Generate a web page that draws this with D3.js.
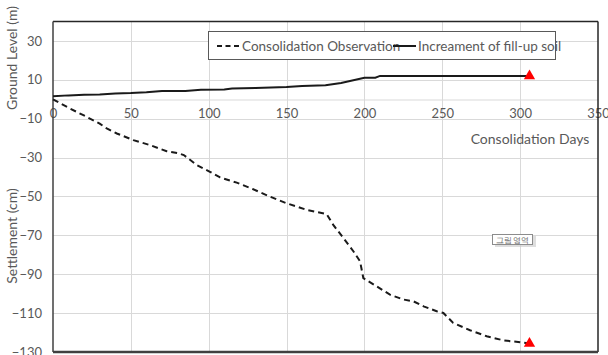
<!DOCTYPE html>
<html>
<head>
<meta charset="utf-8">
<script src="https://cdn.jsdelivr.net/npm/d3@7"></script>
<style>
  html, body { margin: 0; padding: 0; background: #fff; }
  svg { display: block; }
  text { font-family: Lato, "Open Sans", sans-serif; }
</style>
</head>
<body>
<svg id="chart" width="608" height="355"></svg>
<script>
// Consolidation settlement record (days, cm)
const settleDays = [0, 11, 19.5, 30, 34.5, 41, 51.6, 62.3, 73, 80.5, 84, 92.3, 100.8, 107.3, 118, 128.6, 139.4, 150, 163, 175.8, 180, 186.5, 193, 197.2, 199.3, 208, 216.4, 225, 231.4, 238, 246.4, 250.7, 257, 267.8, 278.5, 289.2, 300, 306];
const settleValues = [0, -4.8, -8.2, -12.5, -15, -17.6, -21, -23.6, -26.7, -27.8, -28.7, -33.8, -37.3, -40.2, -42.9, -46.3, -50.1, -53.5, -56.9, -59.1, -64.6, -71.4, -78.3, -83.4, -92, -96.3, -100.5, -103, -103.9, -106.5, -109, -109.9, -115, -118.8, -121.9, -124, -125, -125.6];

// Fill-up soil height (days, m)
const fillDays = [0, 10, 20, 30, 40, 50, 60, 70, 85, 95, 110, 115, 130, 140, 150, 160, 175, 185, 200, 207, 210, 306];
const fillValues = [1.5, 2, 2.3, 2.5, 3, 3.2, 3.6, 4.2, 4.3, 4.9, 5, 5.5, 5.8, 6, 6.3, 6.8, 7.2, 8.4, 11.1, 11.1, 12, 12];

// Latest readings, flagged with markers
const markerDays = [306, 306];
const markerValues = [12, -125.6];

const xTicks = [0, 50, 100, 150, 200, 250, 300, 350];
const yTicks = [30, 10, -10, -30, -50, -70, -90, -110, -130];

const seriesNames = ["Consolidation Observation", "Increament of fill-up soil"];

const svg = d3.select("#chart");
const plotLeft = 53, plotRight = 598, plotTop = 21.5, plotBottom = 352;

const x = d3.scaleLinear().domain([0, 350]).range([plotLeft, plotRight]);
const y = d3.scaleLinear().domain([-130, 40]).range([plotBottom, plotTop]);

const gridColor = "#d9d9d9";
const textColor = "#595959";

// horizontal gridlines
svg.append("g").selectAll("line").data(yTicks.filter(v => v > -130))
  .join("line")
  .attr("x1", plotLeft).attr("x2", plotRight)
  .attr("y1", d => Math.round(y(d)) + 0.5).attr("y2", d => Math.round(y(d)) + 0.5)
  .attr("stroke", gridColor).attr("stroke-width", 1);

// vertical gridlines
svg.append("g").selectAll("line").data(xTicks.filter(v => v > 0 && v < 350))
  .join("line")
  .attr("x1", d => Math.round(x(d)) + 0.5).attr("x2", d => Math.round(x(d)) + 0.5)
  .attr("y1", plotTop).attr("y2", plotBottom)
  .attr("stroke", gridColor).attr("stroke-width", 1);

// horizontal axis at zero
const xAxis = d3.axisBottom(x).tickValues(xTicks).tickSize(0).tickPadding(9);
const gx = svg.append("g").attr("transform", `translate(0,${Math.round(y(0)) + 0.5})`).call(xAxis);
gx.select(".domain").attr("stroke", gridColor);
gx.selectAll("text").attr("fill", textColor).attr("font-size", 13).attr("font-family", "Lato, sans-serif");

// vertical axis
const yAxis = d3.axisLeft(y).tickValues(yTicks).tickSize(0).tickPadding(11);
const gy = svg.append("g").attr("transform", `translate(${plotLeft},0)`).call(yAxis);
gy.select(".domain").remove();
gy.selectAll("text").attr("fill", textColor).attr("font-size", 13).attr("font-family", "Lato, sans-serif");

// plot frame
svg.append("line").attr("x1", plotLeft).attr("x2", plotRight).attr("y1", plotTop).attr("y2", plotTop)
  .attr("stroke", "#262626").attr("stroke-width", 1.5);
svg.append("line").attr("x1", plotRight).attr("x2", plotRight).attr("y1", plotTop).attr("y2", plotBottom)
  .attr("stroke", "#262626").attr("stroke-width", 1.5);
svg.append("line").attr("x1", plotLeft).attr("x2", plotLeft).attr("y1", plotTop).attr("y2", plotBottom)
  .attr("stroke", "#404040").attr("stroke-width", 1.5);
svg.append("line").attr("x1", plotLeft).attr("x2", plotRight).attr("y1", plotBottom).attr("y2", plotBottom)
  .attr("stroke", "#404040").attr("stroke-width", 2.5);

const line = d3.line().x(d => x(d[0])).y(d => y(d[1]));

// settlement curve
svg.append("path")
  .datum(d3.zip(settleDays, settleValues))
  .attr("d", line)
  .attr("fill", "none").attr("stroke", "#1a1a1a").attr("stroke-width", 2)
  .attr("stroke-dasharray", "6,4");

// fill-up soil curve
svg.append("path")
  .datum(d3.zip(fillDays, fillValues))
  .attr("d", line)
  .attr("fill", "none").attr("stroke", "#1a1a1a").attr("stroke-width", 2);

// markers
svg.append("g").selectAll("path").data(d3.zip(markerDays, markerValues))
  .join("path")
  .attr("d", d3.symbol(d3.symbolTriangle, 55))
  .attr("transform", d => `translate(${x(d[0])},${y(d[1])})`)
  .attr("fill", "#ff0000");

// axis titles
svg.append("text")
  .attr("transform", `translate(17,58) rotate(-90)`)
  .attr("text-anchor", "middle").attr("fill", textColor).attr("font-size", 14)
  .text("Ground Level (m)");
svg.append("text")
  .attr("transform", `translate(17,236) rotate(-90)`)
  .attr("text-anchor", "middle").attr("fill", textColor).attr("font-size", 14)
  .text("Settlement (cm)");
svg.append("text")
  .attr("x", 530).attr("y", 144)
  .attr("text-anchor", "middle").attr("fill", textColor).attr("font-size", 14)
  .text("Consolidation Days");

// legend
const lg = svg.append("g");
lg.append("rect").attr("x", 208.5).attr("y", 31.5).attr("width", 347).attr("height", 28)
  .attr("fill", "#fff").attr("stroke", "#595959").attr("stroke-width", 1);
lg.append("line").attr("x1", 217).attr("x2", 240).attr("y1", 46).attr("y2", 46)
  .attr("stroke", "#1a1a1a").attr("stroke-width", 2).attr("stroke-dasharray", "5,3.5");
lg.append("text").attr("x", 242).attr("y", 50.5).attr("fill", textColor).attr("font-size", 13.5)
  .text(seriesNames[0]);
lg.append("line").attr("x1", 393).attr("x2", 416).attr("y1", 46).attr("y2", 46)
  .attr("stroke", "#1a1a1a").attr("stroke-width", 2);
lg.append("text").attr("x", 418).attr("y", 50.5).attr("fill", textColor).attr("font-size", 13.5)
  .text(seriesNames[1]);

// plot area tag
const tag = svg.append("g");
tag.append("rect").attr("x", 495).attr("y", 236).attr("width", 41).attr("height", 11)
  .attr("fill", "#c8c8c8").attr("opacity", 0.6);
tag.append("rect").attr("x", 492.5).attr("y", 234.5).attr("width", 40).attr("height", 10)
  .attr("fill", "#fff").attr("stroke", "#8c8c8c").attr("stroke-width", 1);
tag.append("text").attr("x", 512.5).attr("y", 242.5).attr("text-anchor", "middle")
  .attr("fill", "#6d6d6d").attr("font-size", 7.5)
  .attr("font-family", "'Noto Sans CJK KR', sans-serif")
  .text("그림 영역");
</script>
</body>
</html>
